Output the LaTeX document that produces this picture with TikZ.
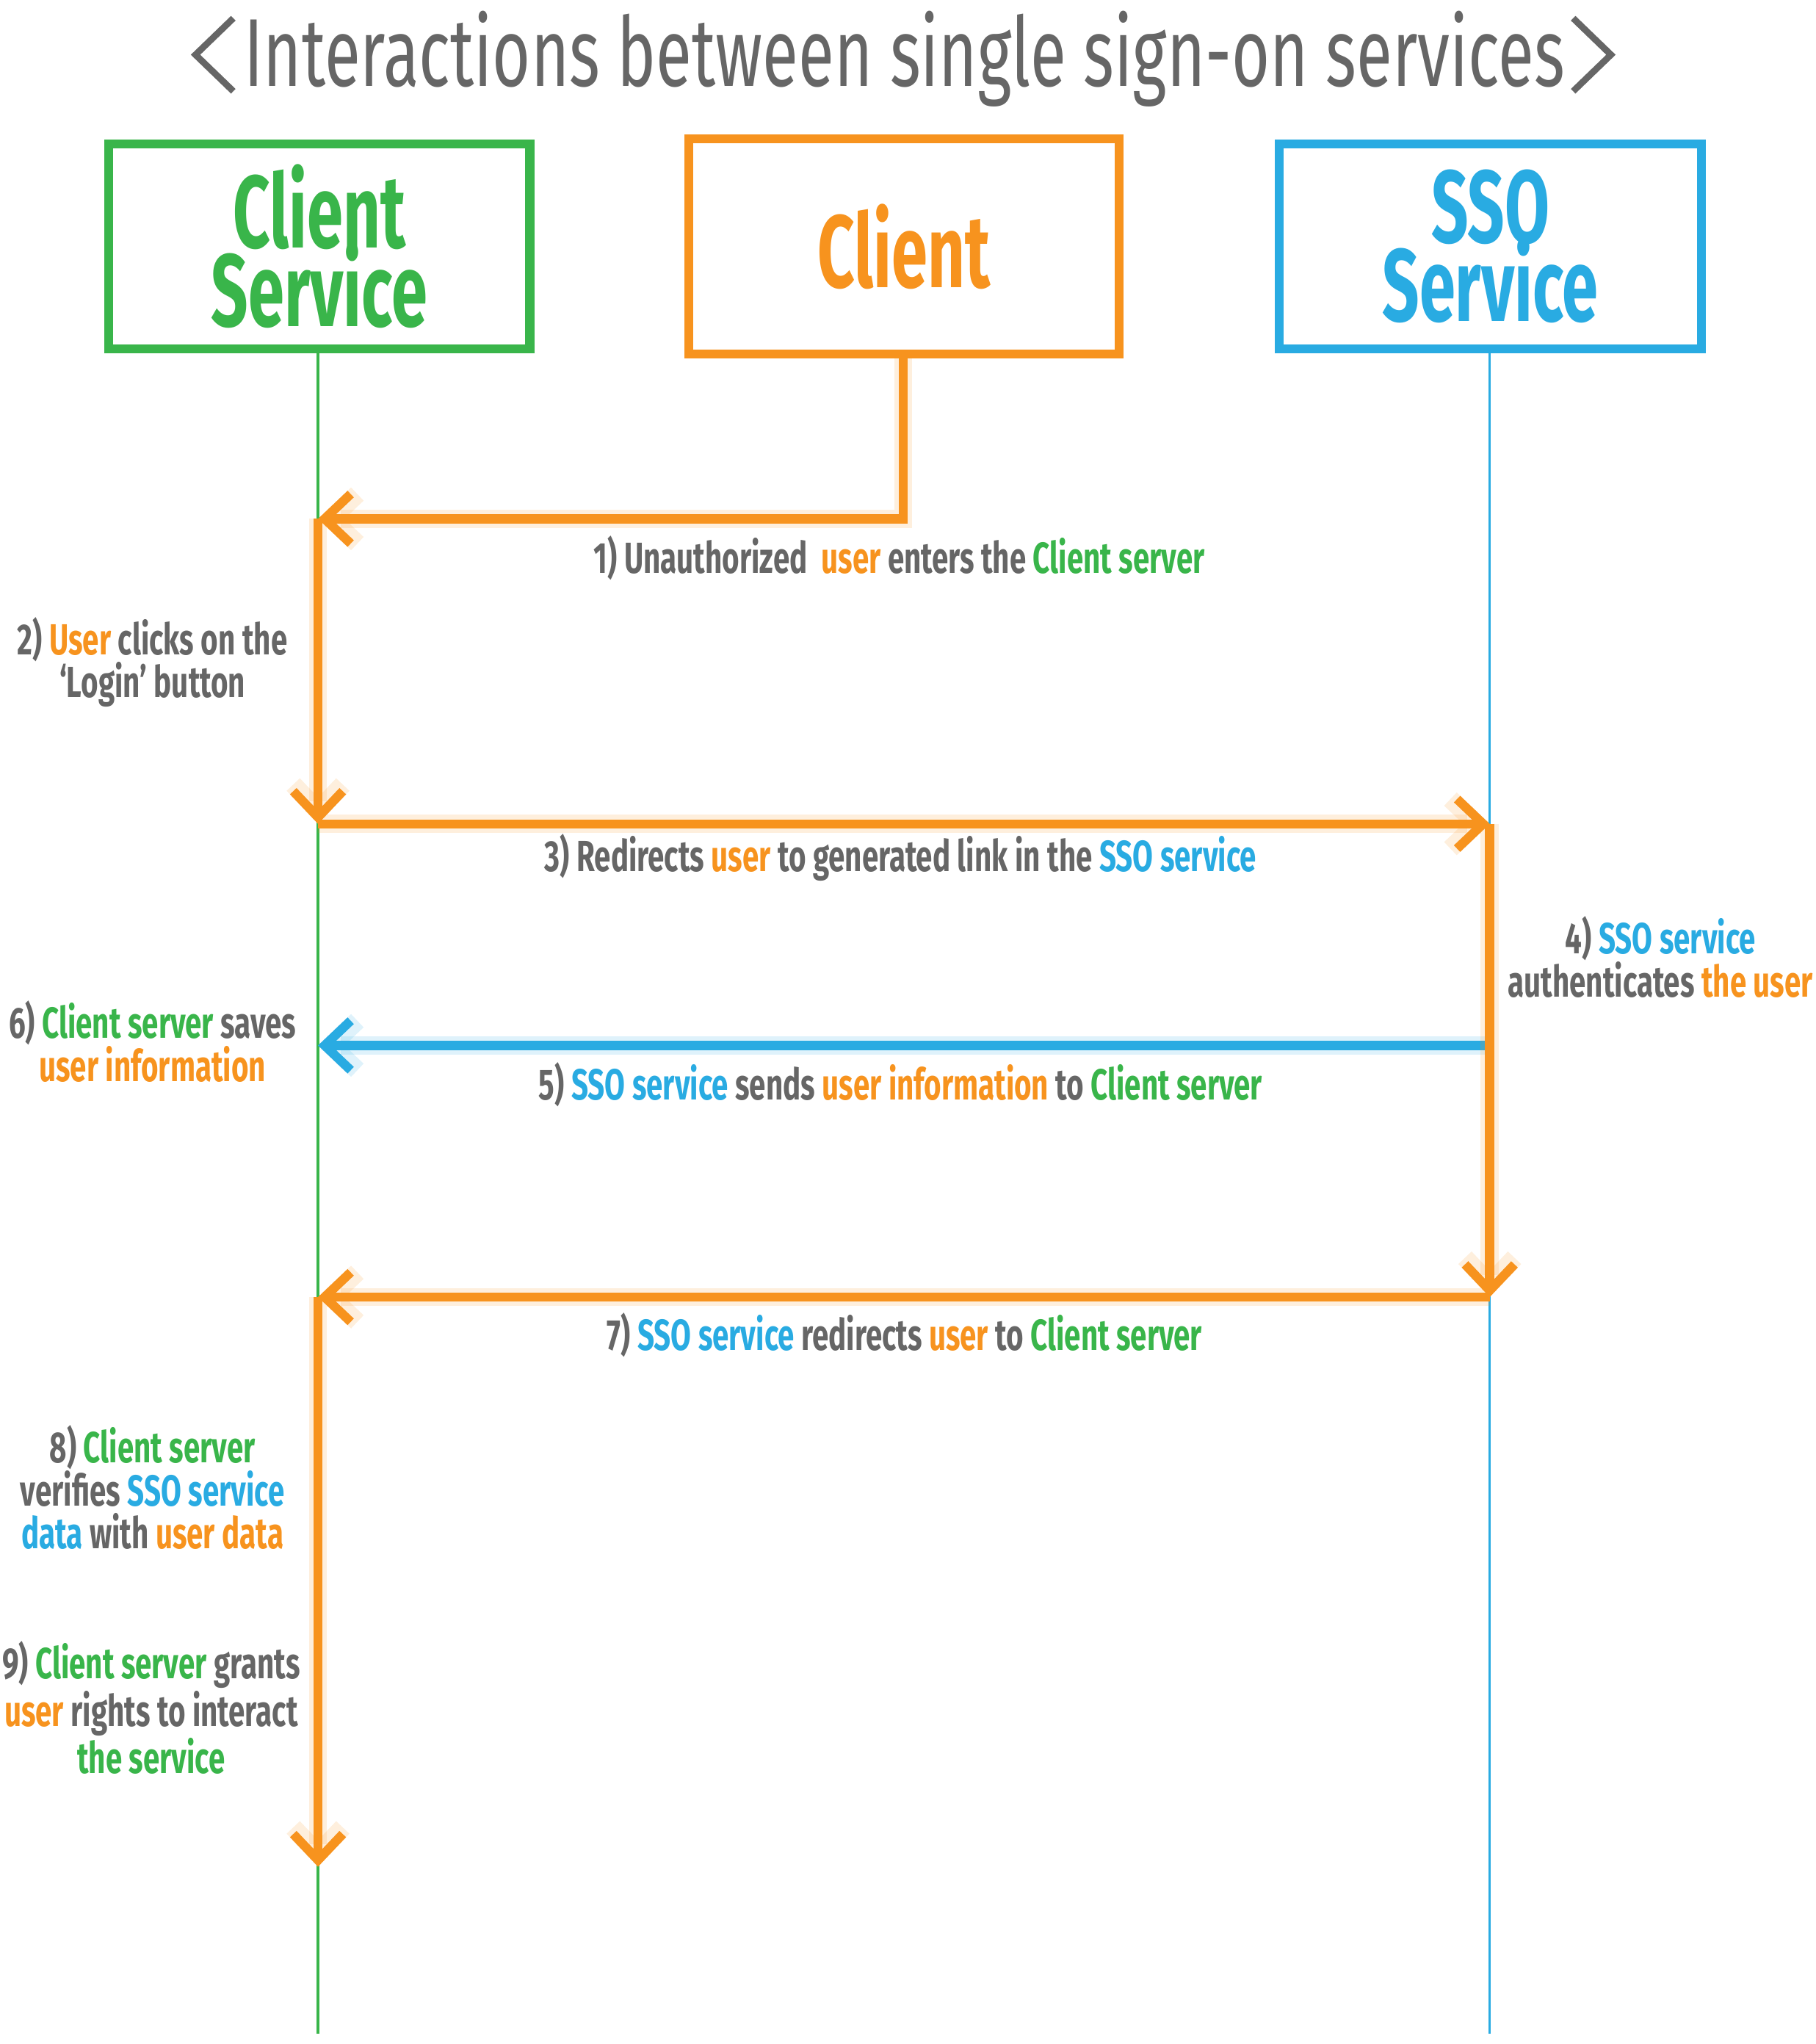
\documentclass[tikz,border=0pt]{standalone}
\usepackage{fontspec}
\setmainfont{Fira Sans}[FakeStretch=0.68]
\newfontfamily\titlefont{Fira Sans}[FakeStretch=0.68]
\newfontfamily\partyfont{Fira Sans}[FakeStretch=0.63]
\usetikzlibrary{positioning,arrows.meta}

\definecolor{ssogreen}{HTML}{39B54A}
\definecolor{ssoorange}{HTML}{F7931E}
\definecolor{ssoblue}{HTML}{29ABE2}
\definecolor{ssogrey}{HTML}{666666}
\newcommand\ingreen[1]{\textcolor{ssogreen}{#1}}
\newcommand\inorange[1]{\textcolor{ssoorange}{#1}}
\newcommand\inblue[1]{\textcolor{ssoblue}{#1}}

\begin{document}
\begin{tikzpicture}[x=0.5pt,y=-0.5pt,
    lifeline/.style={line width=1pt},
    party/.style={draw=#1, text=#1, line width=3.5pt, fill=white, align=center,
      font=\partyfont\fontsize{39.5}{28.5}\selectfont\bfseries},
    msg/.style={#1, line width=3.5pt, -{Straight Barb[length=10pt,width=19pt]},
      preaction={draw=#1, opacity=0.15, line width=7pt}},
    note/.style={text=ssogrey, align=center, inner sep=0pt,
      font=\fontsize{16.7}{16.5}\selectfont\bfseries}]
  \useasboundingbox (0,0) rectangle (1393,1568);

  % title
  \node[text=ssogrey, anchor=base, font=\titlefont\fontsize{37}{37}\selectfont] (title) at (694,66)
    {Interactions between single sign-on services};
  \draw[ssogrey, line width=2.5pt] (179,14) -- (150,42) -- (179,70);
  \draw[ssogrey, line width=2.5pt] (1207,14) -- (1236,42) -- (1207,70);

  % the three parties
  \node[party=ssogreen, minimum width=161.5pt, minimum height=78.5pt] (csbox) at (245,189)
    {Client\\[-3.5pt]Service};
  \node[party=ssoorange, minimum width=165pt, minimum height=82.5pt] (clbox) at (693.5,189)
    {Client};
  \node[party=ssoblue, minimum width=162pt, minimum height=78.5pt] (ssobox) at (1143.5,189)
    {SSO\\[-3.5pt]Service};

  % lifelines
  \coordinate (csend) at (244,1560);
  \coordinate (ssoend) at (1143,1560);
  \draw[lifeline, ssogreen] (csbox.south -| csend) -- (csend);
  \draw[lifeline, ssoblue] (ssobox.south -| ssoend) -- (ssoend);

  % message corners
  \coordinate (k1) at (693,398);
  \coordinate (t1) at (244,398);
  \coordinate (t2) at (244,632);
  \coordinate (t3) at (1143,632);
  \coordinate (s5) at (1143,802);
  \coordinate (t5) at (244,802);
  \coordinate (t4) at (1143,995);
  \coordinate (t7) at (244,995);
  \coordinate (t8) at (244,1432);

  % messages
  \draw[msg=ssoblue] (s5) -- (t5);
  \draw[msg=ssoorange] (clbox.south -| k1) -- (k1) -- (t1);
  \draw[msg=ssoorange] (t1) -- (t2);
  \draw[msg=ssoorange] (t2) -- (t3);
  \draw[msg=ssoorange] (t3) -- (t4);
  \draw[msg=ssoorange] (t4) -- (t7);
  \draw[msg=ssoorange] (t7) -- (t8);

  % labels
  \node[note] (m1) at (690,428) {1) Unauthorized\ \ \inorange{user} enters the \ingreen{Client server}};
  \node[note] (m2) at (117,508) {2) \inorange{User} clicks on the\\‘Login’ button};
  \node[note] (m3) at (691,658) {3) Redirects \inorange{user} to generated link in the \inblue{SSO service}};
  \node[note] (m4) at (1274,734) {4) \inblue{SSO service}\\authenticates \inorange{the user}};
  \node[note] (m5) at (691,832) {5) \inblue{SSO service} sends \inorange{user information} to \ingreen{Client server}};
  \node[note] (m6) at (117,799) {6) \ingreen{Client server} saves\\\inorange{user information}};
  \node[note] (m7) at (694,1024) {7) \inblue{SSO service} redirects \inorange{user} to \ingreen{Client server}};
  \node[note] (m8) at (117,1141) {8) \ingreen{Client server}\\verifies \inblue{SSO service}\\\inblue{data} with \inorange{user data}};
  \node[note] (m9) at (116,1310) {9) \ingreen{Client server} grants\\\inorange{user} rights to interact\\\ingreen{the service}};
\end{tikzpicture}
\end{document}
